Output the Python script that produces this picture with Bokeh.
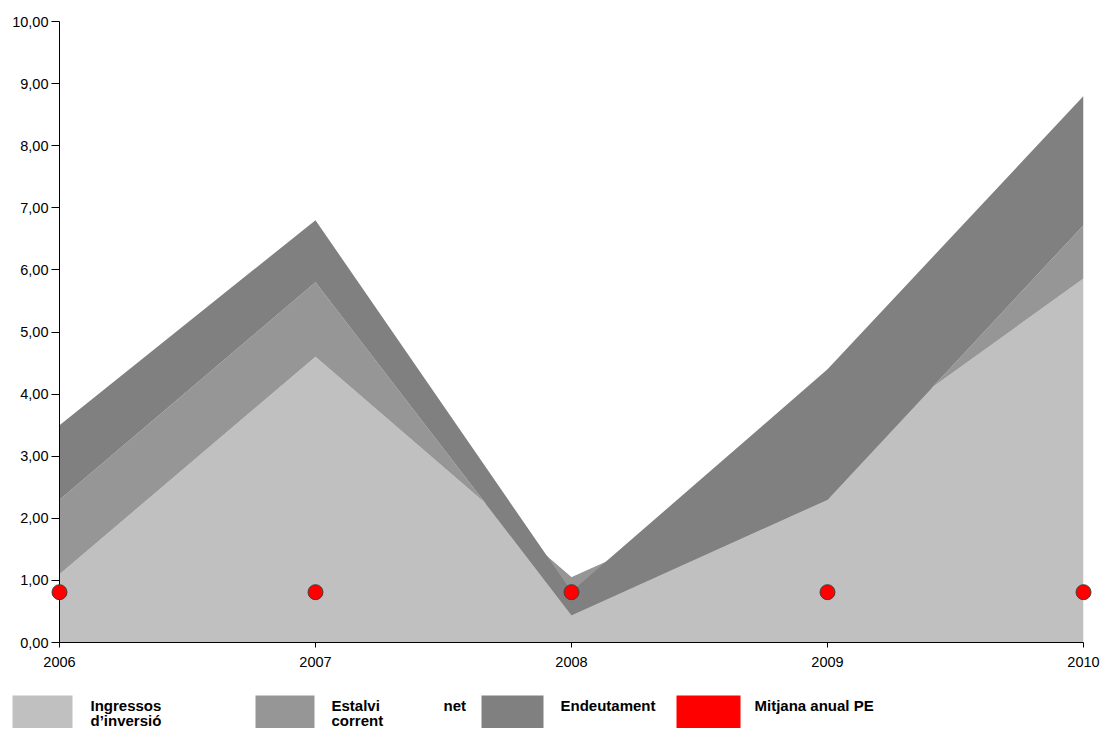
from bokeh.plotting import figure
from bokeh.layouts import column
from bokeh.models import ColumnDataSource, FixedTicker, Range1d
from bokeh.core.properties import value
from bokeh.embed import file_html
from bokeh.resources import INLINE

# ---- data ----
years = [2006, 2007, 2008, 2009, 2010]
ingressos = [1.10, 4.60, 1.05, 2.90, 5.86]
estalvi = [1.20, 1.20, -0.61, -0.60, 0.86]
endeutament = [1.20, 1.00, 0.38, 2.10, 2.08]
mitjana_pe = [0.81, 0.81, 0.81, 0.81, 0.81]
y_ticks = [0, 1, 2, 3, 4, 5, 6, 7, 8, 9, 10]
y_tick_labels = ["0,00", "1,00", "2,00", "3,00", "4,00", "5,00", "6,00", "7,00", "8,00", "9,00", "10,00"]
x_tick_labels = ["2006", "2007", "2008", "2009", "2010"]

colors = ["#C0C0C0", "#969696", "#808080", "#FF0000"]

FONT = "Liberation Sans"

src = ColumnDataSource(dict(year=years, ingressos=ingressos, estalvi=estalvi,
                            endeutament=endeutament, pe=mitjana_pe))

p = figure(width=1103, height=678, x_range=Range1d(2006, 2010), y_range=Range1d(0, 10),
           output_backend="svg", toolbar_location=None,
           min_border_left=59, min_border_right=20, min_border_top=21, min_border_bottom=36)
p.outline_line_color = None
p.xgrid.visible = False
p.ygrid.visible = False
p.background_fill_color = "white"

p.varea_stack(["ingressos", "estalvi", "endeutament"], x="year", color=colors[:3], source=src)
p.scatter(x="year", y="pe", size=15, fill_color=colors[3], line_color="#404040",
          line_width=1, source=src, level="overlay")

# y axis
ya = p.yaxis[0]
ya.ticker = FixedTicker(ticks=y_ticks)
ya.major_label_overrides = {t: l for t, l in zip(y_ticks, y_tick_labels)}
ya.minor_tick_line_color = None
ya.major_tick_in = 0
ya.major_tick_out = 8
ya.major_label_standoff = 3
ya.axis_line_color = "black"
ya.major_tick_line_color = "black"
ya.major_label_text_font = FONT
ya.major_label_text_font_size = "14.5px"
ya.major_label_text_color = "black"

# x axis
xa = p.xaxis[0]
xa.ticker = FixedTicker(ticks=years)
xa.major_label_overrides = {t: l for t, l in zip(years, x_tick_labels)}
xa.minor_tick_line_color = None
xa.major_tick_in = 0
xa.major_tick_out = 5
xa.major_label_standoff = 9
xa.axis_line_color = "black"
xa.major_tick_line_color = "black"
xa.major_label_text_font = FONT
xa.major_label_text_font_size = "14.5px"
xa.major_label_text_color = "black"

# ---- legend strip (coordinates = page pixels) ----
leg = figure(width=1103, height=50, x_range=Range1d(59, 1083), y_range=Range1d(728, 678),
             output_backend="svg", toolbar_location=None, x_axis_type=None, y_axis_type=None,
             min_border_left=59, min_border_right=20, min_border_top=0, min_border_bottom=0)
leg.outline_line_color = None
leg.xgrid.visible = False
leg.ygrid.visible = False

sw_left = [12, 255, 481, 676]
sw_right = [72, 314, 543, 740]
leg.quad(left=sw_left, right=sw_right, top=[695] * 4, bottom=[735] * 4,
         fill_color=colors, line_color=None, level="overlay")

txt_x = [90, 90, 331, 443, 331, 560, 754]
txt_y = [705, 720, 705, 705, 720, 705, 705]
txt = ["Ingressos", "d\u2019inversió", "Estalvi", "net", "corrent", "Endeutament", "Mitjana anual PE"]
leg.text(x=txt_x, y=txt_y, text=txt, text_font=value(FONT), text_font_size="15px",
         text_font_style="bold", text_baseline="middle", text_align="left", text_color="black",
         level="overlay")

layout = column(p, leg, spacing=0)
open("out.html", "w").write(file_html(layout, INLINE))
